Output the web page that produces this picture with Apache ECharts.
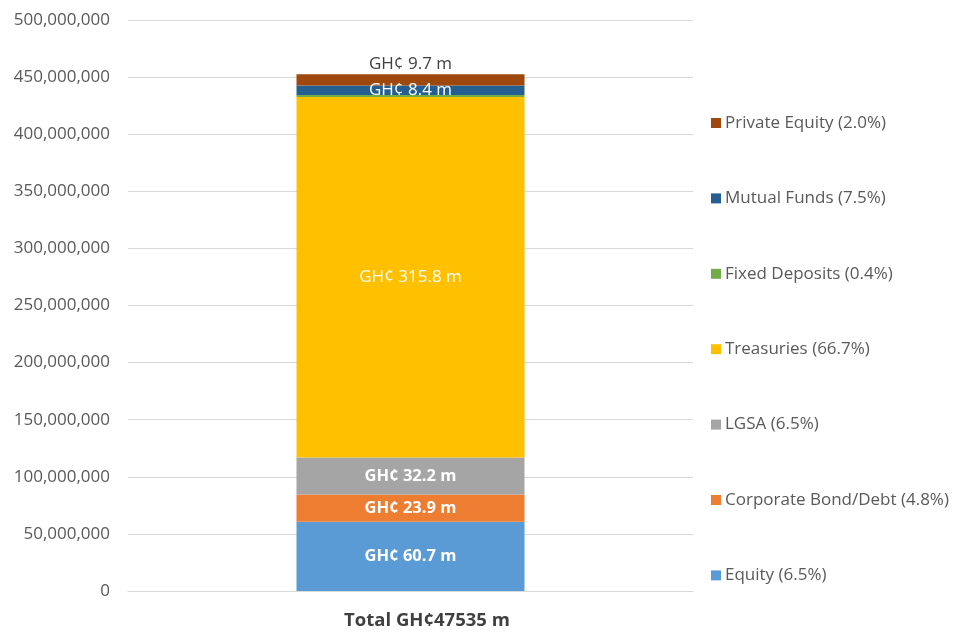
<!DOCTYPE html>
<html>
<head>
<meta charset="utf-8">
<script src="https://cdn.jsdelivr.net/npm/echarts@6/dist/echarts.min.js"></script>
<style>
html, body { margin: 0; padding: 0; background: #fff; }
#main { width: 954px; height: 632px; }
</style>
</head>
<body>
<div id="main"></div>
<script>
const categories = ['Total GH¢47535 m'];
// stack order bottom -> top
const seriesNames = [
    'Equity (6.5%)',
    'Corporate Bond/Debt (4.8%)',
    'LGSA (6.5%)',
    'Treasuries (66.7%)',
    'Fixed Deposits (0.4%)',
    'Mutual Funds (7.5%)',
    'Private Equity (2.0%)'
];
const seriesValues = [60.7e6, 23.9e6, 32.2e6, 315.8e6, 1.7e6, 8.4e6, 9.7e6];
const seriesLabels = ['GH¢ 60.7 m', 'GH¢ 23.9 m', 'GH¢ 32.2 m', 'GH¢ 315.8 m', '', 'GH¢ 8.4 m', 'GH¢ 9.7 m'];
const colors = ['#5B9BD5', '#ED7D31', '#A5A5A5', '#FFC000', '#70AD47', '#255E91', '#9E480E'];

const font = '"Open Sans", Lato, sans-serif';

function labelFor(i) {
    const text = seriesLabels[i];
    if (!text) return { show: false };
    const lab = {
        show: true,
        formatter: () => text,
        fontFamily: font,
        fontSize: 17,
        color: '#fff',
        position: 'inside'
    };
    if (i < 3) {
        lab.fontWeight = 'bold';
        lab.fontSize = 16.5;
    }
    if (i === 6) {
        lab.position = 'top';
        lab.color = '#404040';
        lab.distance = 2;
    }
    return lab;
}

const series = seriesNames.map((name, i) => ({
    name: name,
    type: 'bar',
    stack: 'total',
    barWidth: 228,
    itemStyle: { color: colors[i] },
    label: labelFor(i),
    data: [seriesValues[i]]
}));

const myChart = echarts.init(document.getElementById('main'));

const option = {
    backgroundColor: '#fff',
    animation: false,
    grid: { left: 128, right: 261, top: 20, bottom: 41 },
    legend: {
        orient: 'vertical',
        left: 711,
        top: 113,
        padding: 0,
        itemWidth: 10,
        itemHeight: 10,
        itemGap: 55.4,
        icon: 'rect',
        data: seriesNames.slice().reverse(),
        textStyle: {
            fontFamily: font,
            fontSize: 17,
            color: '#595959',
            lineHeight: 20,
            padding: [0, 0, 0, -1]
        }
    },
    xAxis: {
        type: 'category',
        data: categories,
        axisLine: { lineStyle: { color: '#d9d9d9' } },
        axisTick: { show: false },
        axisLabel: {
            fontFamily: font,
            fontSize: 18.5,
            fontWeight: 'bold',
            color: '#404040',
            margin: 20,
            padding: [0, 0, 0, 33]
        }
    },
    yAxis: {
        type: 'value',
        min: 0,
        max: 500000000,
        interval: 50000000,
        axisLine: { show: false },
        axisTick: { show: false },
        splitLine: { lineStyle: { color: '#d9d9d9' } },
        axisLabel: {
            fontFamily: font,
            fontSize: 17,
            color: '#595959',
            margin: 18,
            formatter: v => v.toLocaleString('en-US')
        }
    },
    series: series
};

myChart.setOption(option);
</script>
</body>
</html>
